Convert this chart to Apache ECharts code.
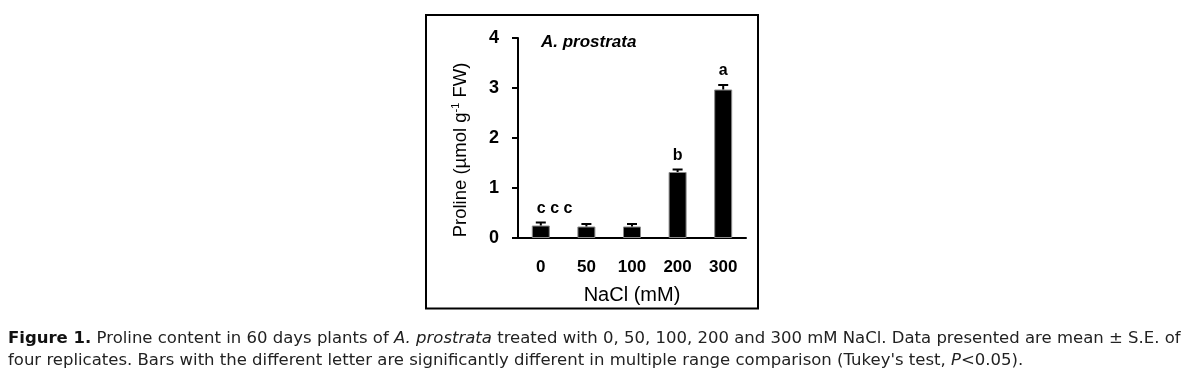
<!DOCTYPE html>
<html>
<head>
<meta charset="utf-8">
<script src="https://cdn.jsdelivr.net/npm/echarts@6/dist/echarts.min.js"></script>
<style>
html,body{margin:0;padding:0;background:#fff;}
#c{width:1191px;height:379px;}
</style>
</head>
<body>
<div id="c"></div>
<script>
// ---- data ----
var categories = ['0', '50', '100', '200', '300'];
var prolineMean = [0.25, 0.23, 0.23, 1.32, 2.97];
var prolineSE = [0.06, 0.05, 0.05, 0.05, 0.09];
var letters = ['c c c', '', '', 'b', 'a'];
var yTicks = [0, 1, 2, 3, 4];

var FONT = '"Liberation Sans", Arial, sans-serif';
var CAP = '"DejaVu Sans", sans-serif';
var chart = echarts.init(document.getElementById('c'), null, {renderer: 'canvas'});

var errData = categories.map(function (c, i) { return [i, prolineMean[i], prolineSE[i]]; });

var option = {
  animation: false,
  backgroundColor: '#fff',
  grid: {left: 518, right: 445, top: 38, bottom: 141, containLabel: false},
  xAxis: {
    type: 'category',
    data: categories,
    axisLine: {lineStyle: {color: '#000', width: 2}},
    axisTick: {show: false},
    axisLabel: {color: '#000', fontFamily: FONT, fontWeight: 'bold', fontSize: 17, margin: 21},
    name: 'NaCl (mM)',
    nameLocation: 'middle',
    nameGap: 47,
    nameTextStyle: {color: '#000', fontFamily: FONT, fontSize: 20}
  },
  yAxis: {
    type: 'value',
    min: yTicks[0],
    max: yTicks[yTicks.length - 1],
    interval: 1,
    splitLine: {show: false},
    axisLine: {show: true, lineStyle: {color: '#000', width: 2}},
    axisTick: {show: true, length: 6, lineStyle: {color: '#000', width: 2}},
    axisLabel: {color: '#000', fontFamily: FONT, fontWeight: 'bold', fontSize: 18, margin: 19}
  },
  graphic: [
    {type: 'rect', shape: {x: 426, y: 15, width: 332, height: 293.5}, style: {fill: 'none', stroke: '#000', lineWidth: 2}, z: 10},
    {type: 'text', x: 541, y: 42, style: {text: 'A. prostrata', fontFamily: FONT, fontStyle: 'italic', fontWeight: 'bold', fontSize: 17, fill: '#000', verticalAlign: 'middle', align: 'left'}},
    {type: 'text', x: 460, y: 150, rotation: Math.PI / 2,
      style: {
        text: '{a|Proline (µmol g}{s|-1}{a| FW)}',
        align: 'center', verticalAlign: 'middle',
        rich: {
          a: {fontFamily: FONT, fontSize: 18.5, fill: '#000', lineHeight: 20, verticalAlign: 'bottom'},
          s: {fontFamily: FONT, fontSize: 11, fill: '#000', lineHeight: 20, verticalAlign: 'top', padding: [0, 0, 7, 0]}
        }
      }},
    {type: 'text', x: 8, y: 339,
      style: {
        text: '{b|Figure 1.}{n| Proline content in 60 days plants of }{i|A. prostrata}{n| treated with 0, 50, 100, 200 and 300 mM NaCl. Data presented are mean ± S.E. of}',
        verticalAlign: 'middle', align: 'left',
        rich: {
          b: {fontFamily: CAP, fontWeight: 'bold', fontSize: 16.5, fill: '#111'},
          n: {fontFamily: CAP, fontSize: 16.5, fill: '#222'},
          i: {fontFamily: CAP, fontStyle: 'italic', fontSize: 16.5, fill: '#222'}
        }
      }},
    {type: 'text', x: 8, y: 361,
      style: {
        text: '{n|four replicates. Bars with the different letter are significantly different in multiple range comparison (Tukey\'s test, }{i|P}{n|<0.05).}',
        verticalAlign: 'middle', align: 'left',
        rich: {
          n: {fontFamily: CAP, fontSize: 16.5, fill: '#222'},
          i: {fontFamily: CAP, fontStyle: 'italic', fontSize: 16.5, fill: '#222'}
        }
      }}
  ],
  series: [
    {
      type: 'bar',
      data: prolineMean,
      barWidth: 18,
      itemStyle: {color: '#000', borderColor: '#8a8a8a', borderWidth: 1},
      z: 2
    },
    {
      type: 'custom',
      data: errData,
      z: 3,
      renderItem: function (params, api) {
        var i = api.value(0), m = api.value(1), se = api.value(2);
        var lab = letters[params.dataIndex];
        var base = api.coord([i, m]);
        var top = api.coord([i, m + se]);
        var x = base[0];
        var children = [
          {type: 'line', shape: {x1: x, y1: base[1], x2: x, y2: top[1]}, style: {stroke: '#000', lineWidth: 2}},
          {type: 'line', shape: {x1: x - 5, y1: top[1], x2: x + 5, y2: top[1]}, style: {stroke: '#000', lineWidth: 2}}
        ];
        if (lab) {
          var multi = lab.length > 1;
          children.push({type: 'text', x: multi ? x - 4 : x, y: top[1] - 14,
            style: {text: lab, fontFamily: FONT, fontWeight: 'bold', fontSize: 16, fill: '#000', align: multi ? 'left' : 'center', verticalAlign: 'middle'}});
        }
        return {type: 'group', children: children};
      }
    }
  ]
};
chart.setOption(option);
</script>
</body>
</html>
